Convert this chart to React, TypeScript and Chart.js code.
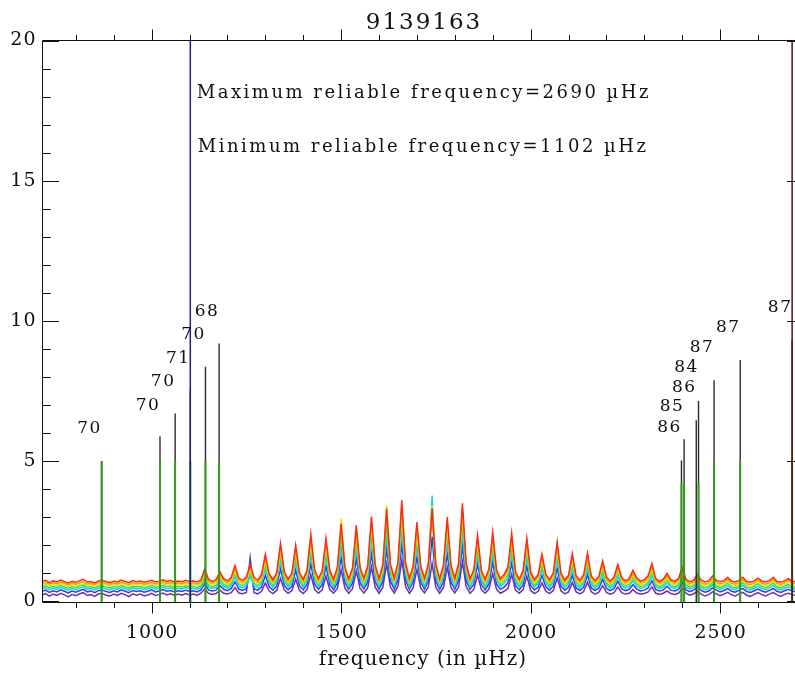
import React, { useEffect, useRef } from "react";
import { Chart, registerables } from "chart.js";

Chart.register(...registerables);

// ---- labels -------------------------------------------------------------
const TITLE = "9139163";
const X_TITLE = "frequency (in µHz)";
const MAX_TEXT = "Maximum reliable frequency=2690 µHz";
const MIN_TEXT = "Minimum reliable frequency=1102 µHz";

// ---- axes ---------------------------------------------------------------
const X_MIN = 712;
const X_MAX = 2720;
const Y_MIN = -0.05;
const Y_MAX = 20;
const X_TICK_STEP = 100;
const X_LABEL_EVERY = 500;
const Y_TICK_STEP = 1;
const Y_LABEL_EVERY = 5;

// reliable frequency limits (µHz)
const MIN_RELIABLE = 1102;
const MAX_RELIABLE = 2690;

// ---- power spectra: one value per 10 µHz starting at 710 µHz ------------
const FREQ_START = 710;
const FREQ_STEP = 10;

const powerRed = [
  0.70,0.74,0.66,0.72,0.68,0.75,0.69,0.64,0.71,0.67,
  0.73,0.78,0.68,0.70,0.65,0.72,0.74,0.69,0.66,0.71,
  0.68,0.75,0.70,0.66,0.73,0.69,0.72,0.67,0.70,0.74,
  0.68,0.71,0.76,0.70,0.73,0.68,0.72,0.69,0.74,0.70,
  0.72,0.68,0.75,1.15,0.78,0.70,0.76,1.05,0.80,0.72,
  0.85,1.27,0.82,0.74,0.86,1.30,0.84,0.75,0.95,1.67,
  0.98,0.76,1.02,2.06,1.05,0.78,1.00,1.99,1.02,0.77,
  1.10,2.38,1.12,0.80,1.08,2.24,1.10,0.78,1.20,2.77,
  1.22,0.80,1.18,2.70,1.20,0.82,1.25,3.02,1.28,0.80,
  1.30,3.30,1.32,0.82,1.38,3.60,1.36,0.80,1.25,2.82,
  1.24,0.82,1.32,3.31,1.30,0.80,1.28,3.00,1.26,0.82,
  1.35,3.49,1.34,0.80,1.12,2.35,1.10,0.78,1.15,2.46,
  1.12,0.80,0.95,1.20,2.42,1.05,0.78,1.08,2.24,1.04,
  0.77,0.95,1.67,0.96,0.76,1.02,2.11,1.00,0.75,0.92,
  1.69,0.90,0.74,0.94,1.71,0.90,0.73,0.88,1.43,0.86,
  0.72,0.85,1.31,0.84,0.72,0.80,1.10,0.82,0.71,0.76,
  0.90,1.34,0.80,0.70,0.78,0.99,0.76,0.70,0.80,1.20,
  0.78,0.69,0.74,0.95,0.75,0.68,0.72,0.90,0.74,0.69,
  0.73,0.85,0.71,0.68,0.74,0.85,0.70,0.67,0.72,0.82,
  0.71,0.68,0.73,0.85,0.70,0.67,0.72,0.80,0.71,0.68,
  0.72,0.70,
];

const powerOrange = [
  0.62,0.67,0.60,0.65,0.61,0.68,0.63,0.58,0.64,0.60,
  0.66,0.70,0.61,0.63,0.59,0.66,0.67,0.62,0.60,0.64,
  0.61,0.68,0.63,0.59,0.66,0.62,0.65,0.60,0.63,0.67,
  0.61,0.64,0.69,0.63,0.66,0.61,0.65,0.62,0.67,0.63,
  0.65,0.61,0.68,1.08,0.71,0.63,0.69,0.96,0.73,0.65,
  0.77,1.17,0.75,0.67,0.78,1.20,0.76,0.68,0.87,1.55,
  0.90,0.69,0.94,1.92,0.96,0.71,0.92,1.86,0.94,0.70,
  1.01,2.23,1.03,0.73,0.99,2.09,1.01,0.71,1.11,2.60,
  1.13,0.73,1.09,2.53,1.11,0.75,1.15,2.84,1.18,0.73,
  1.20,3.10,1.22,0.75,1.28,3.39,1.26,0.73,1.15,2.65,
  1.14,0.75,1.22,3.11,1.20,0.73,1.18,2.82,1.16,0.75,
  1.25,3.28,1.24,0.73,1.03,2.20,1.01,0.71,1.06,2.30,
  1.03,0.73,0.87,1.11,2.27,0.96,0.71,0.99,2.09,0.95,
  0.70,0.87,1.55,0.88,0.69,0.94,1.97,0.92,0.68,0.84,
  1.57,0.82,0.67,0.86,1.59,0.82,0.66,0.80,1.32,0.78,
  0.65,0.77,1.21,0.76,0.65,0.73,1.01,0.75,0.64,0.69,
  0.82,1.24,0.73,0.63,0.71,0.91,0.69,0.63,0.73,1.11,
  0.71,0.62,0.67,0.86,0.66,0.60,0.64,0.82,0.67,0.61,
  0.66,0.78,0.63,0.60,0.67,0.78,0.62,0.59,0.65,0.75,
  0.64,0.60,0.66,0.78,0.63,0.59,0.65,0.73,0.64,0.61,
  0.65,0.62,
];

const powerYellow = [
  0.57,0.61,0.54,0.60,0.56,0.62,0.57,0.52,0.59,0.55,
  0.61,0.64,0.56,0.58,0.53,0.60,0.62,0.57,0.54,0.59,
  0.56,0.63,0.58,0.53,0.61,0.57,0.60,0.55,0.58,0.62,
  0.56,0.59,0.64,0.58,0.61,0.56,0.60,0.57,0.62,0.58,
  0.60,0.56,0.63,0.99,0.65,0.57,0.63,0.90,0.66,0.59,
  0.71,1.10,0.68,0.61,0.72,1.13,0.70,0.62,0.80,1.47,
  0.83,0.63,0.87,1.84,0.90,0.65,0.85,1.77,0.87,0.64,
  0.94,2.13,0.96,0.66,0.92,2.00,0.94,0.65,1.04,2.95,
  1.06,0.66,1.02,2.43,1.04,0.68,1.08,2.73,1.11,0.66,
  1.13,3.42,1.15,0.68,1.20,3.27,1.19,0.66,1.08,2.54,
  1.07,0.68,1.15,3.40,1.13,0.66,1.11,2.71,1.09,0.68,
  1.18,3.17,1.17,0.66,0.96,2.11,0.94,0.65,0.99,2.21,
  0.96,0.66,0.80,1.04,2.17,0.90,0.65,0.92,2.00,0.89,
  0.64,0.80,1.47,0.81,0.63,0.87,1.88,0.85,0.62,0.78,
  1.49,0.76,0.61,0.79,1.51,0.76,0.60,0.74,1.25,0.72,
  0.59,0.71,1.14,0.70,0.59,0.66,0.94,0.68,0.58,0.63,
  0.76,1.17,0.66,0.57,0.65,0.84,0.63,0.57,0.66,1.04,
  0.65,0.56,0.61,0.79,0.60,0.54,0.58,0.75,0.61,0.55,
  0.60,0.71,0.57,0.54,0.61,0.72,0.56,0.53,0.59,0.69,
  0.58,0.54,0.60,0.72,0.57,0.53,0.59,0.67,0.58,0.55,
  0.59,0.56,
];

const powerGreen = [
  0.50,0.55,0.48,0.53,0.49,0.56,0.51,0.46,0.52,0.48,
  0.55,0.58,0.49,0.52,0.47,0.54,0.55,0.50,0.47,0.53,
  0.49,0.56,0.51,0.46,0.54,0.50,0.53,0.48,0.51,0.56,
  0.49,0.52,0.57,0.51,0.54,0.49,0.53,0.50,0.55,0.51,
  0.53,0.49,0.56,0.90,0.58,0.51,0.56,0.81,0.60,0.53,
  0.64,1.00,0.62,0.55,0.65,1.02,0.63,0.56,0.73,1.34,
  0.75,0.56,0.79,1.67,0.81,0.58,0.77,1.61,0.79,0.57,
  0.85,1.94,0.87,0.60,0.84,1.82,0.85,0.58,0.94,2.40,
  0.96,0.60,0.92,2.21,0.94,0.62,0.98,2.49,1.01,0.60,
  1.02,2.72,1.04,0.62,1.09,2.98,1.07,0.60,0.98,2.32,
  0.97,0.62,1.04,3.20,1.02,0.60,1.01,2.47,0.99,0.62,
  1.07,2.88,1.06,0.60,0.87,1.92,0.85,0.58,0.90,2.01,
  0.87,0.60,0.73,0.94,1.98,0.81,0.58,0.84,1.82,0.80,
  0.57,0.73,1.34,0.73,0.56,0.79,1.71,0.77,0.56,0.70,
  1.35,0.68,0.55,0.72,1.37,0.68,0.54,0.67,1.13,0.65,
  0.53,0.64,1.03,0.63,0.53,0.60,0.85,0.62,0.52,0.56,
  0.68,1.06,0.60,0.51,0.58,0.76,0.56,0.51,0.60,0.94,
  0.58,0.50,0.55,0.71,0.54,0.48,0.52,0.67,0.55,0.49,
  0.54,0.64,0.51,0.48,0.55,0.65,0.50,0.47,0.53,0.62,
  0.52,0.48,0.54,0.65,0.51,0.47,0.53,0.60,0.52,0.49,
  0.53,0.50,
];

const powerCyan = [
  0.43,0.48,0.41,0.46,0.42,0.49,0.44,0.39,0.45,0.41,
  0.47,0.51,0.42,0.45,0.40,0.47,0.48,0.43,0.40,0.46,
  0.42,0.49,0.44,0.39,0.47,0.43,0.46,0.41,0.44,0.49,
  0.42,0.45,0.50,0.44,0.47,0.42,0.46,0.43,0.48,0.44,
  0.46,0.42,0.49,0.77,0.50,0.45,0.49,0.70,0.52,0.46,
  0.55,0.86,0.53,0.47,0.56,0.88,0.55,0.48,0.63,1.14,
  0.65,0.49,0.68,1.42,0.70,0.50,0.66,1.37,0.68,0.50,
  0.73,1.66,0.75,0.52,0.72,1.55,0.73,0.50,0.81,1.94,
  0.82,0.52,0.79,1.89,0.81,0.53,0.84,2.12,0.86,0.52,
  0.88,2.32,0.89,0.53,0.94,2.53,0.92,0.52,0.84,1.97,
  0.83,0.53,0.89,3.77,0.88,0.52,0.86,2.10,0.85,0.53,
  0.91,2.45,0.91,0.52,0.75,1.63,0.73,0.50,0.77,1.71,
  0.75,0.52,0.63,0.81,1.68,0.70,0.50,0.72,1.55,0.69,
  0.50,0.63,1.14,0.63,0.49,0.68,1.46,0.66,0.48,0.60,
  1.16,0.59,0.47,0.62,1.17,0.59,0.47,0.58,0.97,0.56,
  0.46,0.55,0.88,0.55,0.46,0.52,0.73,0.53,0.45,0.49,
  0.59,0.91,0.52,0.45,0.50,0.65,0.49,0.45,0.52,0.81,
  0.50,0.43,0.48,0.61,0.47,0.41,0.45,0.58,0.48,0.42,
  0.47,0.55,0.44,0.41,0.48,0.56,0.43,0.40,0.46,0.53,
  0.45,0.41,0.47,0.56,0.44,0.40,0.46,0.52,0.45,0.42,
  0.46,0.43,
];

const powerBlue = [
  0.34,0.39,0.31,0.37,0.33,0.40,0.35,0.29,0.36,0.32,
  0.38,0.42,0.33,0.36,0.30,0.38,0.39,0.34,0.31,0.37,
  0.33,0.40,0.35,0.30,0.38,0.34,0.37,0.32,0.35,0.40,
  0.33,0.36,0.41,0.35,0.38,0.33,0.37,0.34,0.39,0.35,
  0.37,0.33,0.40,0.62,0.40,0.36,0.39,0.56,0.42,0.37,
  0.45,0.69,0.43,0.38,0.45,1.20,0.44,0.39,0.50,0.92,
  0.52,0.39,0.54,1.15,0.56,0.40,0.53,1.11,0.54,0.40,
  0.59,1.33,0.60,0.42,0.58,1.25,0.59,0.40,0.65,1.56,
  0.66,0.42,0.64,1.52,0.65,0.43,0.68,1.70,0.69,0.42,
  0.71,1.87,0.72,0.43,0.75,2.04,0.74,0.42,0.68,1.59,
  0.67,0.43,0.72,2.30,0.71,0.42,0.69,1.69,0.68,0.43,
  0.74,1.98,0.73,0.42,0.60,1.32,0.59,0.40,0.62,1.38,
  0.60,0.42,0.50,0.65,1.36,0.56,0.40,0.58,1.25,0.56,
  0.40,0.50,0.92,0.51,0.39,0.54,1.18,0.53,0.39,0.49,
  0.93,0.47,0.38,0.50,0.94,0.47,0.38,0.46,0.78,0.45,
  0.37,0.45,0.71,0.44,0.37,0.42,0.59,0.43,0.36,0.39,
  0.47,0.73,0.42,0.36,0.40,0.53,0.39,0.36,0.42,0.65,
  0.40,0.34,0.39,0.50,0.38,0.32,0.36,0.47,0.39,0.33,
  0.38,0.45,0.35,0.32,0.39,0.45,0.34,0.31,0.37,0.43,
  0.36,0.32,0.38,0.45,0.35,0.31,0.37,0.42,0.36,0.33,
  0.37,0.34,
];

const powerPurple = [
  0.21,0.27,0.18,0.25,0.20,0.28,0.22,0.15,0.24,0.19,
  0.26,0.30,0.20,0.23,0.17,0.26,0.27,0.21,0.18,0.25,
  0.20,0.28,0.23,0.16,0.26,0.21,0.25,0.19,0.22,0.28,
  0.20,0.24,0.29,0.22,0.26,0.20,0.25,0.21,0.27,0.22,
  0.25,0.20,0.28,0.43,0.28,0.24,0.27,0.39,0.28,0.25,
  0.30,0.48,0.29,0.26,0.31,1.55,0.30,0.26,0.35,0.65,
  0.36,0.27,0.38,0.81,0.39,0.28,0.37,0.78,0.38,0.27,
  0.41,0.95,0.42,0.28,0.40,0.89,0.41,0.28,0.45,1.11,
  0.46,0.28,0.44,1.08,0.45,0.29,0.47,1.22,0.49,0.28,
  0.49,1.33,0.50,0.29,0.53,1.46,0.52,0.28,0.47,1.13,
  0.47,0.29,0.50,1.34,0.49,0.28,0.49,1.21,0.48,0.29,
  0.51,1.41,0.51,0.28,0.42,0.93,0.41,0.28,0.43,0.98,
  0.42,0.28,0.35,0.45,0.96,0.39,0.28,0.40,0.89,0.38,
  0.27,0.35,0.65,0.35,0.27,0.38,0.83,0.37,0.26,0.33,
  0.66,0.33,0.26,0.34,0.67,0.33,0.25,0.32,0.55,0.31,
  0.25,0.30,0.50,0.30,0.25,0.28,0.41,0.29,0.25,0.27,
  0.33,0.51,0.28,0.24,0.28,0.36,0.27,0.24,0.28,0.45,
  0.28,0.21,0.26,0.35,0.25,0.18,0.23,0.33,0.26,0.19,
  0.25,0.31,0.22,0.18,0.26,0.31,0.21,0.17,0.24,0.30,
  0.23,0.18,0.25,0.31,0.22,0.17,0.24,0.28,0.23,0.20,
  0.24,0.21,
];

// ---- injected test signals ---------------------------------------------
const injectedFreq = [868, 1022, 1062, 1102, 1142, 1178, 2398, 2405, 2437, 2443, 2484, 2553, 2690];
const injectedHeight = [5.0, 5.88, 6.69, 7.5, 8.36, 9.19, 5.02, 5.77, 6.45, 7.14, 7.88, 8.6, 9.3];
const injectedCore = [5.0, 5.0, 5.0, 5.0, 5.0, 5.0, 4.2, 4.2, 0, 4.2, 5.0, 5.0, 5.0];
const injectedLabel = ["70", "70", "70", "71", "70", "68", "86", "85", "86", "84", "87", "87", "87"];
const injectedLabelLevel = [6.16, 6.99, 7.84, 8.65, 9.52, 10.33, 6.2, 6.93, 7.62, 8.32, 9.04, 9.75, 10.46];

const FONT = '"DejaVu Serif", serif';

type Pt = { x: number; y: number | null };

const toPoints = (vals: number[]): Pt[] =>
  vals.map((v, i) => ({ x: FREQ_START + FREQ_STEP * i, y: v }));

const stems = (heights: number[]): Pt[] =>
  injectedFreq.flatMap((f, i) =>
    heights[i] > 0
      ? [
          { x: f, y: Y_MIN },
          { x: f, y: heights[i] },
          { x: f, y: null },
        ]
      : []
  );

// tick values along each axis, one per step inside the axis range
const axisSteps = (lo: number, hi: number, step: number): number[] => {
  const out: number[] = [];
  for (let v = Math.ceil(lo / step) * step; v <= hi; v += step) out.push(v);
  return out;
};

const spectra = [
  { label: "purple", data: powerPurple, color: "#6e2fb4" },
  { label: "blue", data: powerBlue, color: "#2b3ff0" },
  { label: "cyan", data: powerCyan, color: "#12d4e6" },
  { label: "green", data: powerGreen, color: "#3ee03a" },
  { label: "yellow", data: powerYellow, color: "#f2e21c" },
  { label: "orange", data: powerOrange, color: "#ff9a00" },
  { label: "red", data: powerRed, color: "#f2301a" },
];

// Letter spacing for the text that Chart.js draws (y tick labels, axis title)
const letterSpacingPlugin = {
  id: "letterSpacing",
  beforeDraw(chart: any) {
    chart.ctx.letterSpacing = "1px";
  },
};

// Plot frame with IDL-style ticks: x ticks point outward, y ticks inward
const framePlugin = {
  id: "frame",
  afterDatasetsDraw(chart: any) {
    const { ctx, chartArea: a, scales } = chart;
    const x = scales.x;
    const y = scales.y;
    ctx.save();
    ctx.strokeStyle = "#111";
    ctx.lineWidth = 1;
    ctx.beginPath();
    ctx.rect(a.left, a.top, a.right - a.left, a.bottom - a.top);
    for (const v of axisSteps(X_MIN, X_MAX, X_TICK_STEP)) {
      const px = Math.round(x.getPixelForValue(v)) + 0.5;
      const len = v % X_LABEL_EVERY === 0 ? 11 : 5.5;
      ctx.moveTo(px, a.bottom);
      ctx.lineTo(px, a.bottom + len);
      ctx.moveTo(px, a.top);
      ctx.lineTo(px, a.top - len);
    }
    for (const v of axisSteps(Y_MIN, Y_MAX, Y_TICK_STEP)) {
      const py = Math.round(y.getPixelForValue(v)) + 0.5;
      const len = v % Y_LABEL_EVERY === 0 ? 16.5 : 8.3;
      ctx.moveTo(a.left, py);
      ctx.lineTo(a.left + len, py);
      ctx.moveTo(a.right, py);
      ctx.lineTo(a.right - len, py);
    }
    ctx.stroke();
    ctx.restore();
  },
};

// Title, x tick labels, reliability notes and mode-degree labels
const textPlugin = {
  id: "texts",
  afterDraw(chart: any) {
    const { ctx, chartArea: a, scales } = chart;
    const x = scales.x;
    const y = scales.y;
    ctx.save();
    ctx.fillStyle = "#111";

    ctx.font = `23px ${FONT}`;
    ctx.letterSpacing = "2px";
    ctx.textAlign = "center";
    ctx.textBaseline = "alphabetic";
    ctx.fillText(TITLE, (a.left + a.right) / 2 + 1, 29);

    // x tick labels at the labelled ticks of the x scale
    ctx.font = `19px ${FONT}`;
    ctx.letterSpacing = "1px";
    ctx.textAlign = "center";
    ctx.textBaseline = "middle";
    for (const v of axisSteps(X_MIN, X_MAX, X_LABEL_EVERY)) {
      ctx.fillText(String(v), x.getPixelForValue(v) + 0.5, a.bottom + 31);
    }

    ctx.font = `18px ${FONT}`;
    ctx.letterSpacing = "2.5px";
    ctx.textAlign = "left";
    ctx.textBaseline = "alphabetic";
    const tx = x.getPixelForValue(MIN_RELIABLE) + 6.5;
    ctx.fillText(MAX_TEXT, tx, 98);
    ctx.fillText(MIN_TEXT, tx + 1, 152);

    ctx.font = `17px ${FONT}`;
    ctx.letterSpacing = "1.5px";
    ctx.textAlign = "center";
    ctx.textBaseline = "middle";
    injectedLabel.forEach((lab, i) => {
      const px = x.getPixelForValue(injectedFreq[i]) - 12;
      const py = y.getPixelForValue(injectedLabelLevel[i]);
      ctx.fillText(lab, px, py);
    });
    ctx.restore();
  },
};

export default function App() {
  const canvasRef = useRef<HTMLCanvasElement | null>(null);

  useEffect(() => {
    const canvas = canvasRef.current;
    if (!canvas) return;

    const datasets: any[] = [];

    // reliability limits, drawn on top
    datasets.push({
      label: "min reliable",
      data: [
        { x: MIN_RELIABLE, y: Y_MIN },
        { x: MIN_RELIABLE, y: Y_MAX },
      ],
      borderColor: "#1e1e80",
      borderWidth: 1.5,
      order: 1,
    });
    datasets.push({
      label: "max reliable",
      data: [
        { x: MAX_RELIABLE, y: Y_MIN },
        { x: MAX_RELIABLE, y: Y_MAX },
      ],
      borderColor: "#5c1010",
      borderWidth: 1.5,
      order: 1,
    });

    // injected signals: full height in black, core in green
    datasets.push({
      label: "injected core",
      data: stems(injectedCore),
      borderColor: "#3a9a1c",
      borderWidth: 2,
      spanGaps: false,
      order: 4,
    });
    datasets.push({
      label: "injected",
      data: stems(injectedHeight),
      borderColor: "#2a2a2a",
      borderWidth: 1.4,
      spanGaps: false,
      order: 5,
    });

    spectra.forEach((s, i) => {
      datasets.push({
        label: s.label,
        data: toPoints(s.data),
        borderColor: s.color,
        borderWidth: 1.5,
        order: 20 - i,
      });
    });

    const chart = new Chart(canvas, {
      type: "line",
      data: { datasets },
      options: {
        responsive: false,
        animation: false,
        devicePixelRatio: 1,
        layout: { padding: { left: 0, right: 16.5, top: 40.5, bottom: 0 } },
        elements: {
          point: { radius: 0, hoverRadius: 0 },
          line: { tension: 0, fill: false },
        },
        plugins: {
          legend: { display: false },
          tooltip: { enabled: false },
          title: { display: false },
        },
        scales: {
          x: {
            type: "linear",
            min: X_MIN,
            max: X_MAX,
            grid: { display: false, drawTicks: false },
            border: { display: false },
            ticks: { display: false },
            title: {
              display: true,
              text: X_TITLE,
              color: "#111",
              font: { family: FONT, size: 20 },
              padding: { top: 0, bottom: 2 },
            },
            afterFit: (s: any) => {
              s.height = 71.5;
            },
          },
          y: {
            type: "linear",
            min: Y_MIN,
            max: Y_MAX,
            grid: { display: false, drawTicks: false },
            border: { display: false },
            ticks: {
              stepSize: Y_TICK_STEP,
              includeBounds: false,
              autoSkip: false,
              padding: 6,
              color: "#111",
              font: { family: FONT, size: 19 },
              callback: (v: any) => (Number(v) % Y_LABEL_EVERY === 0 ? String(v) : ""),
            },
            afterFit: (s: any) => {
              s.width = 42.5;
            },
          },
        },
      },
      plugins: [letterSpacingPlugin, framePlugin, textPlugin],
    });

    return () => chart.destroy();
  }, []);

  return (
    <div
      style={{
        position: "fixed",
        left: 0,
        top: 0,
        width: 795,
        height: 674,
        overflow: "hidden",
        background: "#ffffff",
      }}
    >
      <canvas ref={canvasRef} width={820} height={674} style={{ display: "block" }} />
    </div>
  );
}
